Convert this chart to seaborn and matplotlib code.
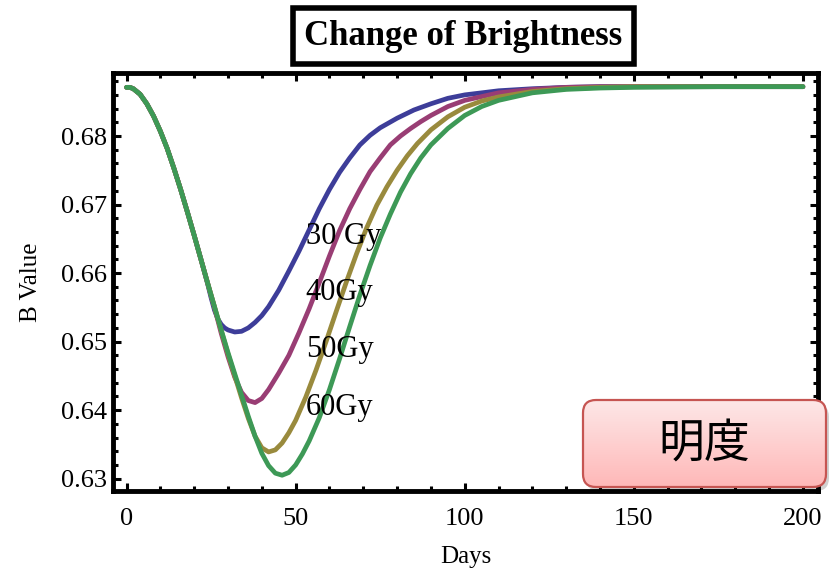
import matplotlib
matplotlib.use('Agg')
import matplotlib.pyplot as plt
import seaborn as sns
import numpy as np
import pandas as pd
from matplotlib.patches import FancyBboxPatch
from matplotlib.ticker import MultipleLocator

# curves (days, B value)
days_30 = [0, 1, 2, 4, 6, 8, 10, 12, 14, 16, 18, 20, 22, 24, 25, 26, 27, 28, 29, 30, 32, 34, 36, 38, 40, 42,
           45, 48, 51, 54, 57, 60, 63, 66, 69, 72, 75, 80, 85, 90, 95, 100, 110, 120, 130, 140, 150, 175, 200]
b_30 = [0.6871, 0.6871, 0.6869, 0.6861, 0.6847, 0.6829, 0.6807, 0.6782, 0.6753, 0.6722, 0.6689, 0.6655,
        0.6620, 0.6584, 0.6564, 0.6546, 0.6533, 0.6525, 0.6520, 0.6517, 0.6514, 0.6515, 0.6520, 0.6528,
        0.6538, 0.6551, 0.6575, 0.6603, 0.6632, 0.6663, 0.6694, 0.6722, 0.6747, 0.6768, 0.6787, 0.6801,
        0.6812, 0.6826, 0.6838, 0.6847, 0.6855, 0.6860, 0.6866, 0.6869, 0.6871, 0.6872, 0.6872, 0.6872,
        0.6872]

days_40 = [0, 1, 2, 4, 6, 8, 10, 12, 14, 16, 18, 20, 22, 24, 26, 28, 30, 32, 34, 36, 38, 40, 42, 45, 48, 51,
           54, 57, 60, 63, 66, 69, 72, 75, 78, 81, 84, 87, 90, 95, 100, 110, 120, 130, 140, 150, 175, 200]
b_40 = [0.6871, 0.6871, 0.6869, 0.6861, 0.6847, 0.6829, 0.6807, 0.6782, 0.6753, 0.6722, 0.6689, 0.6655,
        0.6620, 0.6585, 0.6550, 0.6512, 0.6478, 0.6448, 0.6426, 0.6414, 0.6411, 0.6417, 0.6430, 0.6454,
        0.6480, 0.6513, 0.6548, 0.6586, 0.6625, 0.6662, 0.6694, 0.6722, 0.6748, 0.6768, 0.6787, 0.6800,
        0.6811, 0.6821, 0.6830, 0.6843, 0.6852, 0.6863, 0.6868, 0.6871, 0.6872, 0.6872, 0.6872, 0.6872]

days_50 = [0, 1, 2, 4, 6, 8, 10, 12, 14, 16, 18, 20, 22, 24, 26, 28, 30, 32, 34, 36, 38, 40, 42, 44, 46, 48,
           50, 53, 56, 59, 62, 65, 68, 71, 74, 77, 80, 83, 86, 90, 95, 100, 105, 110, 120, 130, 140, 150, 175, 200]
b_50 = [0.6871, 0.6871, 0.6869, 0.6861, 0.6847, 0.6829, 0.6807, 0.6782, 0.6753, 0.6722, 0.6689, 0.6655,
        0.6620, 0.6585, 0.6551, 0.6516, 0.6482, 0.6450, 0.6418, 0.6388, 0.6362, 0.6345, 0.6339, 0.6342,
        0.6352, 0.6367, 0.6385, 0.6419, 0.6458, 0.6500, 0.6544, 0.6587, 0.6628, 0.6666, 0.6699, 0.6726,
        0.6750, 0.6771, 0.6789, 0.6809, 0.6828, 0.6842, 0.6851, 0.6857, 0.6865, 0.6869, 0.6871, 0.6872,
        0.6872, 0.6872]

days_60 = [0, 1, 2, 4, 6, 8, 10, 12, 14, 16, 18, 20, 22, 24, 26, 28, 30, 32, 34, 36, 38, 40, 42, 44, 46, 48,
           50, 52, 54, 57, 60, 63, 66, 69, 72, 75, 78, 81, 84, 87, 90, 95, 100, 105, 110, 120, 130, 140, 150,
           175, 200]
b_60 = [0.6871, 0.6871, 0.6869, 0.6861, 0.6847, 0.6829, 0.6807, 0.6782, 0.6753, 0.6722, 0.6689, 0.6655,
        0.6620, 0.6585, 0.6551, 0.6517, 0.6484, 0.6453, 0.6422, 0.6391, 0.6362, 0.6337, 0.6319, 0.6308,
        0.6305, 0.6309, 0.6320, 0.6336, 0.6355, 0.6389, 0.6430, 0.6475, 0.6522, 0.6568, 0.6611, 0.6651,
        0.6686, 0.6718, 0.6745, 0.6768, 0.6787, 0.6811, 0.6830, 0.6843, 0.6852, 0.6863, 0.6868, 0.6870,
        0.6871, 0.6872, 0.6872]

doses = ['30 Gy', '40Gy', '50Gy', '60Gy']
colors = ['#3d3d99', '#993d74', '#998a3d', '#3d9956']

frames = []
for d, x, y in zip(doses, [days_30, days_40, days_50, days_60], [b_30, b_40, b_50, b_60]):
    frames.append(pd.DataFrame({'Days': x, 'B': y, 'dose': d}))
df = pd.concat(frames, ignore_index=True)

sns.set_style('ticks')
plt.rcParams['font.family'] = ['Liberation Serif', 'DejaVu Serif']
plt.rcParams['text.color'] = 'black'
plt.rcParams['axes.labelcolor'] = 'black'
plt.rcParams['xtick.color'] = 'black'
plt.rcParams['ytick.color'] = 'black'
plt.rcParams['axes.edgecolor'] = 'black'

fig = plt.figure(figsize=(8.34, 5.70), dpi=100)
ax = fig.add_axes([0.1355, 0.1386, 0.8455, 0.7334])

sns.lineplot(data=df, x='Days', y='B', hue='dose', palette=colors, lw=3.4,
             estimator=None, sort=False, legend=False, ax=ax)

ax.set_xlim(-4, 204.5)
ax.set_ylim(0.6282, 0.6892)
ax.xaxis.set_major_locator(MultipleLocator(50))
ax.xaxis.set_minor_locator(MultipleLocator(10))
ax.yaxis.set_major_locator(MultipleLocator(0.01))
ax.yaxis.set_minor_locator(MultipleLocator(0.002))
ax.yaxis.set_major_formatter(matplotlib.ticker.FormatStrFormatter('%.2f'))
ax.tick_params(which='both', direction='in', top=True, right=True, width=2.2, labelsize=19)
ax.tick_params(which='major', length=6)
ax.tick_params(which='minor', length=3.5)
ax.tick_params(axis='x', pad=12)
ax.tick_params(axis='y', pad=4)
for s in ax.spines.values():
    s.set_linewidth(3.5)

ax.set_xlabel('Days', fontsize=18, labelpad=12)
ax.set_ylabel('B Value', fontsize=18, labelpad=14)

# curve labels
label_y = [0.6654, 0.6571, 0.6488, 0.6404]
for txt, yv in zip(doses, label_y):
    ax.text(53, yv, txt, fontsize=22, va='center', ha='left')

# title in a box
fig.text(0.5558, 0.9368, 'Change of Brightness', fontsize=25, fontweight='bold',
         ha='center', va='center',
         bbox=dict(boxstyle='square,pad=0.32', fc='white', ec='black', lw=4))

# pink rounded box overlay in pixel coordinates
ov = fig.add_axes([0, 0, 1, 1], zorder=10)
ov.set_xlim(0, 834)
ov.set_ylim(570, 0)
ov.axis('off')
ov.patch.set_alpha(0)
bx, by, bw, bh = 583, 400, 243, 87
shadow = FancyBboxPatch((bx + 3, by + 4), bw, bh, boxstyle='round,pad=0,rounding_size=13',
                        fc='black', ec='none', alpha=0.18)
ov.add_patch(shadow)
box = FancyBboxPatch((bx, by), bw, bh, boxstyle='round,pad=0,rounding_size=13',
                     fc='none', ec='#c65552', lw=1.6)
ov.add_patch(box)
top = np.array([253, 231, 231]) / 255
bot = np.array([255, 184, 184]) / 255
t = np.linspace(0, 1, 100)[:, None]
grad = (top * (1 - t) + bot * t)[:, None, :]
im = ov.imshow(grad, extent=(bx, bx + bw, by + bh, by), aspect='auto', origin='upper', zorder=1)
im.set_clip_path(box)
box.set_zorder(2)
ov.text(bx + bw / 2, by + bh / 2 + 1, '明度', fontsize=33, ha='center', va='center',
        family=['Noto Sans CJK JP', 'DejaVu Sans'], zorder=3)

fig.savefig('out.png', dpi=100)
